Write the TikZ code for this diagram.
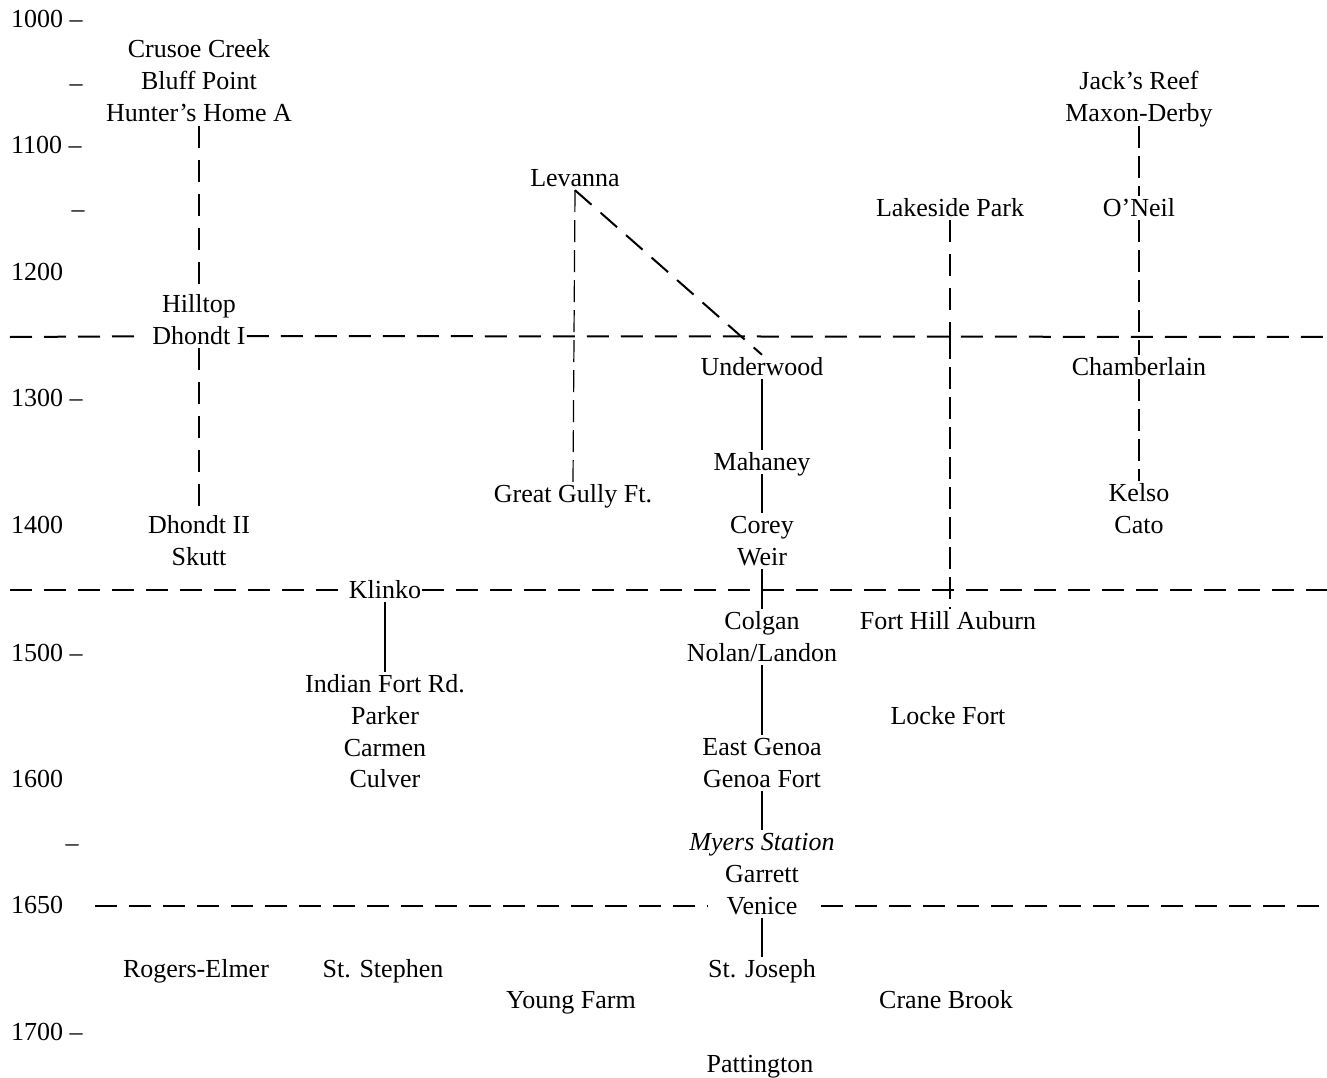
\documentclass[tikz,border=0pt]{standalone}
\usepackage{fontspec}
\setmainfont{Liberation Serif}
\begin{document}
\begin{tikzpicture}[x=1pt,y=-1pt,
  lbl/.style={font=\fontsize{26}{30}\selectfont, inner sep=1pt, text height=19pt, text depth=3pt},
  axis/.style={lbl, anchor=west},
  dashline/.style={line width=2pt, dash pattern=on 22pt off 12pt},
  thindash/.style={line width=1.2pt, dash pattern=on 22pt off 8pt},
  solidline/.style={line width=2pt}]
\useasboundingbox (0,0) rectangle (1327,1078);
% axis
\node[axis] (a1000) at (10,20) {1000 –};
\node[lbl] (t1) at (76,84) {–};
\node[axis] (a1100) at (10,146) {1100 –};
\node[lbl] (t2) at (78,210) {–};
\node[axis] (a1200) at (10,272) {1200};
\node[axis] (a1300) at (10,398) {1300 –};
\node[axis] (a1400) at (10,525) {1400};
\node[axis] (a1500) at (10,653) {1500 –};
\node[axis] (a1600) at (10,779) {1600};
\node[lbl] (t3) at (72,843) {–};
\node[axis] (a1650) at (10,905) {1650};
\node[axis] (a1700) at (10,1032) {1700 –};
% column 1
\node[lbl] (crusoe) at (199,50) {Crusoe Creek};
\node[lbl] (bluff) at (199,82) {Bluff Point};
\node[lbl] (hunters) at (199,114) {Hunter's Home A};
\node[lbl] (hilltop) at (199,304) {Hilltop};
\node[lbl] (dhondtI) at (199,336) {Dhondt I};
\node[lbl] (dhondtII) at (199,525) {Dhondt II};
\node[lbl] (skutt) at (199,557) {Skutt};
% Levanna
\node[lbl] (levanna) at (575,178) {Levanna};
\node[lbl] (greatgully) at (573,494) {Great Gully Ft.};
% centre column
\node[lbl] (underwood) at (762,367) {Underwood};
\node[lbl] (mahaney) at (762,462) {Mahaney};
\node[lbl] (corey) at (762,525) {Corey};
\node[lbl] (weir) at (762,557) {Weir};
\node[lbl] (colgan) at (762,621) {Colgan};
\node[lbl] (nolan) at (762,653) {Nolan/Landon};
\node[lbl] (eastgenoa) at (762,747) {East Genoa};
\node[lbl] (genoafort) at (762,779) {Genoa Fort};
\node[lbl] (myers) at (762,842) {\itshape Myers Station};
\node[lbl] (garrett) at (762,874) {Garrett};
\node[lbl] (venice) at (762,906) {Venice};
\node[lbl] (stjoseph) at (762,969) {St. Joseph};
\node[lbl] (pattington) at (760,1064) {Pattington};
% Lakeside column
\node[lbl] (lakeside) at (950,208) {Lakeside Park};
\node[lbl] (forthill) at (948,621) {Fort Hill Auburn};
\node[lbl] (lockefort) at (948,716) {Locke Fort};
\node[lbl] (cranebrook) at (946,1000) {Crane Brook};
% right column
\node[lbl] (jacks) at (1139,82) {Jack's Reef};
\node[lbl] (maxon) at (1139,114) {Maxon-Derby};
\node[lbl] (oneil) at (1139,208) {O'Neil};
\node[lbl] (chamberlain) at (1139,367) {Chamberlain};
\node[lbl] (kelso) at (1139,493) {Kelso};
\node[lbl] (cato) at (1139,525) {Cato};
% Klinko column
\node[lbl] (klinko) at (385,590) {Klinko};
\node[lbl] (indianfort) at (385,684) {Indian Fort Rd.};
\node[lbl] (parker) at (385,716) {Parker};
\node[lbl] (carmen) at (385,748) {Carmen};
\node[lbl] (culver) at (385,779) {Culver};
% bottom row
\node[lbl] (rogers) at (196,969) {Rogers-Elmer};
\node[lbl] (ststephen) at (383,969) {St. Stephen};
\node[lbl] (youngfarm) at (571,1000) {Young Farm};
% horizontal line ends
\coordinate (hL1) at (10,337);
\coordinate (hR1) at (1327,337);
\coordinate (hL2) at (10,590);
\coordinate (hR2) at (1327,590);
\coordinate (hL3) at (95,906);
\coordinate (hR3) at (1327,906);
% horizontal dashed lines
\draw[dashline, shorten >=8pt] (hL1) -- (dhondtI);
\draw[dashline] (dhondtI) -- (hR1);
\draw[dashline] (hL2) -- (klinko);
\draw[dashline] (klinko) -- (hR2);
\draw[dashline, shorten >=18pt] (hL3) -- (venice);
\draw[dashline, shorten <=22pt] (venice) -- (hR3);
% column 1
\draw[dashline] (hunters) -- (hilltop);
\draw[dashline] (dhondtI) -- (dhondtII);
% Levanna
\draw[thindash] (levanna.south) -- (greatgully.north);
\draw[dashline] (levanna.south) -- (underwood.north);
% centre column
\draw[solidline] (underwood) -- (mahaney);
\draw[solidline] (mahaney) -- (corey);
\draw[solidline] (weir) -- (colgan);
\draw[solidline] (nolan) -- (eastgenoa);
\draw[solidline] (genoafort) -- (myers);
\draw[solidline] (venice) -- (stjoseph);
% Lakeside
\coordinate (lkx) at (lakeside.south |- hR1);
\draw[dashline] (lakeside.south) -- (lkx);
\draw[thindash] (lkx) -- (lakeside.south |- forthill.north);
% right column
\draw[thindash] (maxon) -- (oneil);
\draw[thindash] (oneil) -- (chamberlain);
\draw[thindash] (chamberlain) -- (kelso);
% Klinko
\draw[solidline] (klinko) -- (indianfort);
\end{tikzpicture}
\end{document}
